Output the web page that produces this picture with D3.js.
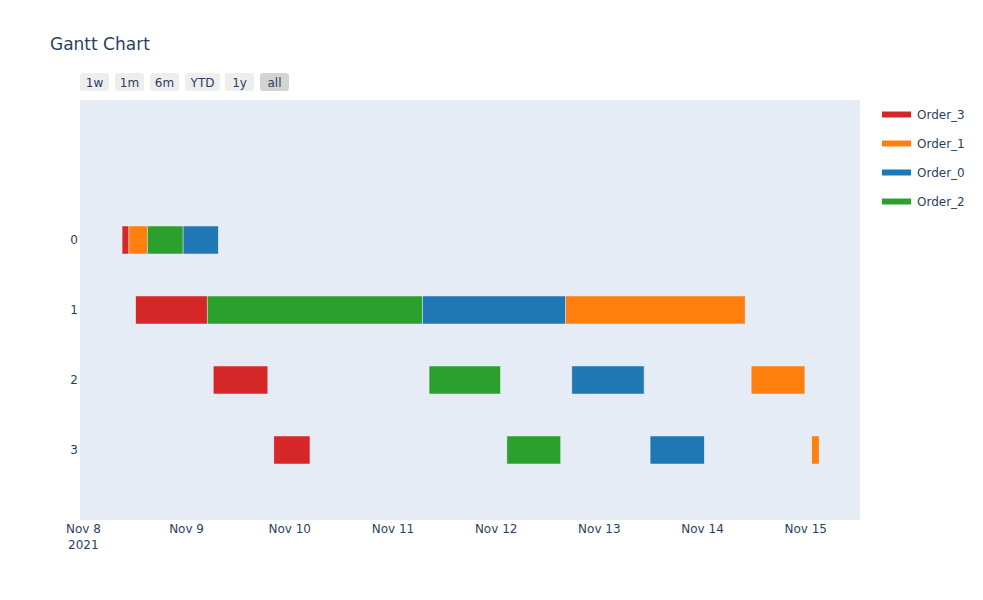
<!DOCTYPE html>
<html><head><meta charset="utf-8">
<script src="https://cdn.jsdelivr.net/npm/d3@7/dist/d3.min.js"></script>
<style>body{margin:0;background:#fff;font-family:"DejaVu Sans",Verdana,sans-serif;}</style>
</head><body><svg id="c" width="983" height="600" font-family="DejaVu Sans, Verdana, sans-serif"></svg>
<script>
const machines = [0, 1, 2, 3];
const orders = ["Order_3", "Order_1", "Order_0", "Order_2"];
const colors = ["#d62728", "#ff7f0e", "#1f77b4", "#2ca02c"];
// task: [machine, start, finish]
const order3Tasks = [
  [0, "2021-11-08T09:00", "2021-11-08T10:36"],
  [1, "2021-11-08T12:10", "2021-11-09T04:48"],
  [2, "2021-11-09T06:12", "2021-11-09T18:54"],
  [3, "2021-11-09T20:18", "2021-11-10T04:42"]
];
const order1Tasks = [
  [0, "2021-11-08T10:36", "2021-11-08T14:52"],
  [1, "2021-11-12T16:06", "2021-11-14T09:54"],
  [2, "2021-11-14T11:18", "2021-11-14T23:48"],
  [3, "2021-11-15T01:24", "2021-11-15T03:06"]
];
const order0Tasks = [
  [0, "2021-11-08T23:10", "2021-11-09T07:22"],
  [1, "2021-11-11T06:48", "2021-11-12T16:06"],
  [2, "2021-11-12T17:36", "2021-11-13T10:24"],
  [3, "2021-11-13T11:48", "2021-11-14T00:24"]
];
const order2Tasks = [
  [0, "2021-11-08T14:52", "2021-11-08T23:10"],
  [1, "2021-11-09T04:48", "2021-11-11T06:48"],
  [2, "2021-11-11T08:24", "2021-11-12T01:00"],
  [3, "2021-11-12T02:30", "2021-11-12T15:00"]
];
const tasksByOrder = [order3Tasks, order1Tasks, order0Tasks, order2Tasks];
const tickDates = ["2021-11-08","2021-11-09","2021-11-10","2021-11-11","2021-11-12","2021-11-13","2021-11-14","2021-11-15"];
const rangeButtons = ["1w", "1m", "6m", "YTD", "1y", "all"];

const parse = s => new Date(s + (s.length > 10 ? ":00Z" : "T00:00:00Z"));
const svg = d3.select("#c");
const L = 80, R = 860, T = 100, B = 520;
const x = d3.scaleUtc().domain([parse("2021-11-07T23:13"), parse("2021-11-15T12:37")]).range([L, R]);
const y = d3.scaleLinear().domain([-2, 4]).range([T, B]);
const textCol = "#2a3f5f";

svg.append("rect").attr("x", L).attr("y", T).attr("width", R - L).attr("height", B - T).attr("fill", "#e5ecf6");

// bars
orders.forEach((o, i) => {
  const g = svg.append("g");
  g.selectAll("rect").data(tasksByOrder[i]).join("rect")
    .attr("x", d => x(parse(d[1])))
    .attr("width", d => x(parse(d[2])) - x(parse(d[1])))
    .attr("y", d => y(d[0] - 0.2))
    .attr("height", d => y(0.4) - y(0))
    .attr("fill", colors[i])
    .attr("stroke", "#e5ecf6").attr("stroke-width", 0.5);
});

// y axis labels
svg.append("g").selectAll("text").data(machines).join("text")
  .attr("x", 78).attr("y", d => y(d)).attr("dy", "0.35em")
  .attr("text-anchor", "end").attr("font-size", 12).attr("fill", textCol)
  .text(d => d);

// x axis
const fmt = d3.utcFormat("%b %-d");
const xt = svg.append("g").selectAll("text").data(tickDates).join("text")
  .attr("x", d => x(parse(d))).attr("y", 533)
  .attr("text-anchor", "middle").attr("font-size", 12).attr("fill", textCol);
xt.append("tspan").attr("x", d => x(parse(d))).text(d => fmt(parse(d)));
xt.filter((d, i) => i === 0).append("tspan").attr("x", d => x(parse(d))).attr("dy", 16).text(d => parse(d).getUTCFullYear());

// title
svg.append("text").attr("x", 50).attr("y", 50).attr("font-size", 17).attr("fill", textCol).text("Gantt Chart");

// range selector
const bx = [80, 115, 150, 185, 225, 260], bw = [29, 29, 29, 35, 29, 29];
const bg = svg.append("g").selectAll("g").data(rangeButtons).join("g");
bg.append("rect").attr("x", (d, i) => bx[i]).attr("y", 73).attr("width", (d, i) => bw[i]).attr("height", 18)
  .attr("rx", 3).attr("fill", (d, i) => d === "all" ? "#d4d4d4" : "#eeeeee");
bg.append("text").attr("x", (d, i) => bx[i] + bw[i] / 2).attr("y", 86.5).attr("text-anchor", "middle")
  .attr("font-size", 12).attr("fill", textCol).text(d => d);

// legend
const lg = svg.append("g").selectAll("g").data(orders).join("g")
  .attr("transform", (d, i) => `translate(0,${114.5 + i * 29})`);
lg.append("line").attr("x1", 882).attr("x2", 911).attr("y1", 0).attr("y2", 0)
  .attr("stroke", (d, i) => colors[i]).attr("stroke-width", 6);
lg.append("text").attr("x", 917).attr("y", 0).attr("dy", "0.35em").attr("font-size", 12).attr("fill", textCol).text(d => d);
</script></body></html>
